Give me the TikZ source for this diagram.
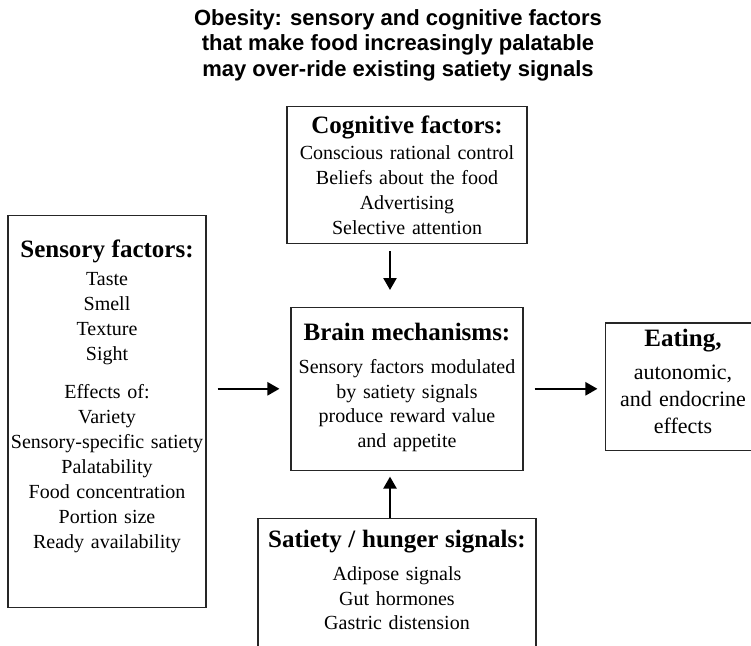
\documentclass[tikz,border=0pt]{standalone}
\usepackage{fontspec}
\setmainfont{Liberation Serif}
\setsansfont{Liberation Sans}
\usetikzlibrary{arrows.meta, positioning}
\newcommand\padtop[1]{\rule{0pt}{#1pt}}
\newcommand\padbot[1]{\rule[-#1pt]{0pt}{0pt}}
\newcommand\hd[1]{{\fontsize{25}{25}\selectfont\bfseries #1}}

\begin{document}
\begin{tikzpicture}[
                    x=1pt, y=1pt,
                    box/.style={draw=black!85, line width=1.1pt, anchor=north, inner sep=0pt, align=center, font=\fontsize{20}{24.5}\selectfont},
                    arr/.style={-{Triangle[length=12pt, width=13pt]}, line width=2.4pt},
                    title/.style={anchor=north, inner sep=0pt, align=center, font=\sffamily\bfseries\fontsize{22}{25.5}\selectfont}
                ]
                \useasboundingbox (0,0) rectangle (751,-645);
                \node[title] (title) at (398,-5) {\padtop{20}Obesity: sensory and cognitive factors\\that make food increasingly palatable\\may over-ride existing satiety signals};

                \node[box, text width=240pt, font=\fontsize{20}{25}\selectfont] (cog) at (407,-106) {\padtop{27}\hd{Cognitive factors:}\\[1pt]Conscious rational control\\Beliefs about the food\\Advertising\\Selective attention\padbot{9}};
                \node[box, text width=198pt, font=\fontsize{20}{25}\selectfont] (sens) at (107,-215) {\padtop{42}\hd{Sensory factors:}\\[3pt]Taste\\Smell\\Texture\\Sight\\[13pt]Effects of:\\Variety\\Sensory-specific satiety\\Palatability\\Food concentration\\Portion size\\Ready availability\padbot{59}};
                \node[box, text width=232pt] (brain) at (407,-307) {\padtop{33}\hd{Brain mechanisms:}\\[8.5pt]Sensory factors modulated\\by satiety signals\\produce reward value\\and appetite\padbot{23}};
                \node[box, draw=none, text width=154pt, font=\fontsize{22}{27}\selectfont] (eat) at (683,-323) {\padtop{23}\hd{Eating,}\\[6pt]autonomic,\\and endocrine\\effects\padbot{16}};
                \draw[black!85, line width=1.1pt] ([xshift=10pt]eat.north east) -- (eat.north west) -- (eat.south west) -- ([xshift=10pt]eat.south east);
                \node[box, text width=278pt] (sat) at (397,-518) {\padtop{29}\hd{Satiety / hunger signals:}\\[8.5pt]Adipose signals\\Gut hormones\\Gastric distension\padbot{40}};

                \draw[arr, shorten <=7pt, shorten >=17pt] ([xshift=-17pt]cog.south) -- ([xshift=-17pt]brain.north);
                \draw[arr, shorten >=6pt] ([xshift=-7pt]sat.north) -- ([xshift=-17pt]brain.south);
                \draw[arr, shorten <=11pt, shorten >=11pt] (sens.east |- brain.west) -- (brain.west);
                \draw[arr, shorten <=11pt, shorten >=8pt] (brain.east) -- (brain.east -| eat.west);
            \end{tikzpicture}
\end{document}
